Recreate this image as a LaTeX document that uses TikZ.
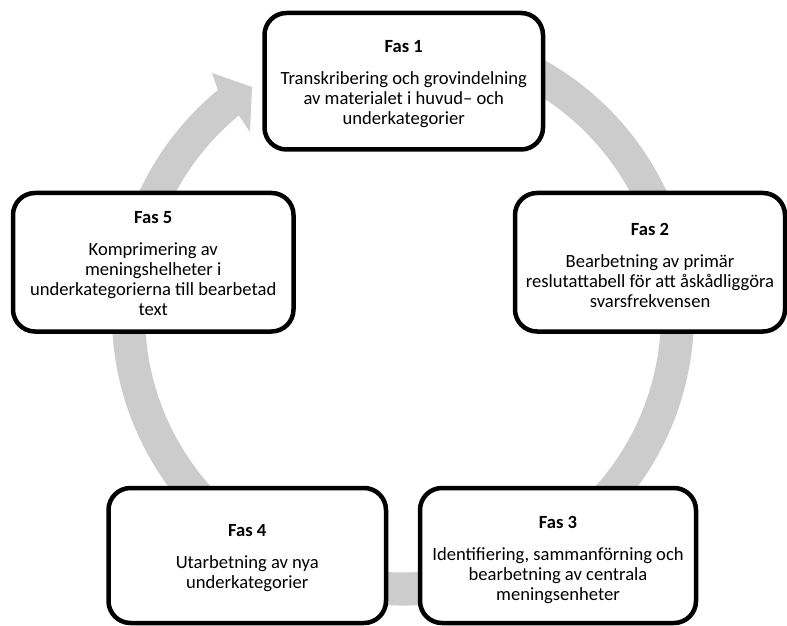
\documentclass[tikz,border=0pt]{standalone}
\usepackage{fontspec}
\setmainfont{Carlito}
\usetikzlibrary{calc}
\definecolor{bandgray}{RGB}{204,204,204}
\tikzset{
  phasebox/.style={draw=black, line width=4.5pt, fill=white, rounded corners=22pt,
    inner sep=0pt, minimum height=#1},
  phasebox/.default=138pt,
  phasetxt/.style={align=center, inner sep=0pt,
    font=\fontsize{18.6}{20}\selectfont},
}
\newcommand{\fasgap}{\\[12pt]}
\begin{document}
\begin{tikzpicture}[x=1pt,y=1pt]
\useasboundingbox (0,0) rectangle (787,625);
\clip (0,0) rectangle (787,625);
\coordinate (c) at (403,310.5);
% circular arrow band
\fill[bandgray] ($(c)+(80:291)$) arc[start angle=80, end angle=-230.5, radius=291pt]
  -- (212,552) -- (252,538) -- (250,493)
  -- ($(c)+(-230.5:258)$) arc[start angle=-230.5, end angle=80, radius=258pt] -- cycle;
% boxes
\node[phasebox=136.5pt, minimum width=278.5pt] (f1) at (403.75,543.75) {};
\node[phasebox=138.5pt, minimum width=270pt] (f2) at (650,362.75) {};
\node[phasebox=138.5pt, minimum width=280.5pt] (f5) at (153.25,362.75) {};
\node[phasebox=135pt, minimum width=276pt] (f3) at (558,69.5) {};
\node[phasebox=135pt, minimum width=277.5pt] (f4) at (247.25,69.5) {};
% texts
\node[phasetxt] (t1) at ([yshift=-3pt]f1.center) {\textbf{Fas 1}\fasgap Transkribering och grovindelning\\ av materialet i huvud– och\\ underkategorier};
\node[phasetxt] (t2) at ([yshift=-3pt]f2.center) {\textbf{Fas 2}\fasgap Bearbetning av primär\\ reslutattabell för att åskådliggöra\\ svarsfrekvensen};
\node[phasetxt] (t5) at ([yshift=-1pt]f5.center) {\textbf{Fas 5}\fasgap Komprimering av\\ meningshelheter i\\ underkategorierna till bearbetad\\ text};
\node[phasetxt] (t3) at ([yshift=-4pt]f3.center) {\textbf{Fas 3}\fasgap Identifiering, sammanförning och\\ bearbetning av centrala\\ meningsenheter};
\node[phasetxt] (t4) at ([yshift=-3pt]f4.center) {\textbf{Fas 4}\fasgap Utarbetning av nya\\ underkategorier};
\end{tikzpicture}
\end{document}
